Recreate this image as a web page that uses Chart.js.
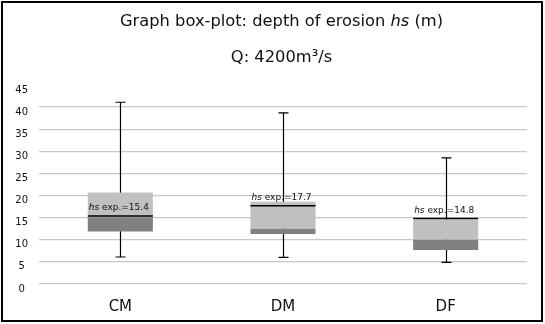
<!DOCTYPE html>
<html>
<head>
<meta charset="utf-8">
<script src="https://cdn.jsdelivr.net/npm/chart.js@4.4.0/dist/chart.umd.min.js"></script>
<style>
  html, body { margin: 0; padding: 0; background: #fff; }
  #wrap { position: relative; width: 545px; height: 324px; }
  #frame { position: absolute; left: 1px; top: 1px; width: 538px; height: 317px; border: 2px solid #000; }
  .ttl { position: absolute; left: 9px; width: 545px; text-align: center; font-family: "DejaVu Sans", sans-serif; font-size: 16.3px; line-height: 19px; color: #111; white-space: nowrap; }
  canvas { position: absolute; left: 0; top: 0; }
</style>
</head>
<body>
<div id="wrap">
  <canvas id="chart01" width="545" height="324"></canvas>
  <div id="frame"></div>
  <div class="ttl" style="top:11px">Graph box-plot: depth of erosion <i>hs</i> (m)</div>
  <div class="ttl" style="top:47px">Q: 4200m³/s</div>
</div>
<script>
// box plot data
var categories = ['CM', 'DM', 'DF'];
var whiskerMin = [6.1, 6.0, 4.9];
var q1 = [11.9, 11.3, 7.7];
var median = [15.1, 12.5, 10.0];
var q3 = [20.7, 18.6, 14.6];
var whiskerMax = [41.1, 38.7, 28.5];
var hsExp = [15.4, 17.7, 14.8];
var yTicks = [0, 5, 10, 15, 20, 25, 30, 35, 40, 45];

var lowerBox = categories.map(function (c, i) { return [q1[i], median[i]]; });
var upperBox = categories.map(function (c, i) { return [median[i], q3[i]]; });

// whiskers behind the boxes, hs exp. line + label on top
var whiskerPlugin = {
  id: 'whiskers',
  beforeDatasetsDraw: function (chart) {
    var ctx = chart.ctx;
    var x = chart.scales.x, y = chart.scales.y;
    ctx.save();
    ctx.strokeStyle = '#000';
    ctx.lineWidth = 1.2;
    categories.forEach(function (c, i) {
      var cx = Math.round(x.getPixelForValue(i)) + 0.5;
      var top = y.getPixelForValue(whiskerMax[i]);
      var bot = y.getPixelForValue(whiskerMin[i]);
      ctx.beginPath();
      ctx.moveTo(cx, top); ctx.lineTo(cx, bot);
      ctx.moveTo(cx - 5, top); ctx.lineTo(cx + 5, top);
      ctx.moveTo(cx - 5, bot); ctx.lineTo(cx + 5, bot);
      ctx.stroke();
    });
    ctx.restore();
  },
  afterDatasetsDraw: function (chart) {
    var ctx = chart.ctx;
    var y = chart.scales.y;
    var bars = chart.getDatasetMeta(1).data;
    ctx.save();
    categories.forEach(function (c, i) {
      var b = bars[i];
      var left = b.x - b.width / 2, right = b.x + b.width / 2;
      var yy = y.getPixelForValue(hsExp[i]);
      ctx.strokeStyle = '#000';
      ctx.lineWidth = 1.5;
      ctx.beginPath();
      ctx.moveTo(left, yy); ctx.lineTo(right, yy);
      ctx.stroke();
      ctx.fillStyle = '#111';
      ctx.textBaseline = 'alphabetic';
      ctx.textAlign = 'left';
      ctx.font = 'italic 9px "DejaVu Sans"';
      var tx = left + 1, ty = yy - 5.5;
      ctx.fillText('hs', tx, ty);
      tx += ctx.measureText('hs').width;
      ctx.font = '9px "DejaVu Sans"';
      ctx.fillText(' exp.=' + hsExp[i].toFixed(1), tx, ty);
    });
    ctx.restore();
  }
};

new Chart(document.getElementById('chart01').getContext('2d'), {
  type: 'bar',
  data: {
    labels: categories,
    datasets: [{
      label: 'Q1 - median',
      data: lowerBox,
      backgroundColor: '#808080',
      borderWidth: 0,
      grouped: false,
      categoryPercentage: 1,
      barPercentage: 0.4
    }, {
      label: 'median - Q3',
      data: upperBox,
      backgroundColor: '#c0c0c0',
      borderWidth: 0,
      grouped: false,
      categoryPercentage: 1,
      barPercentage: 0.4
    }]
  },
  options: {
    responsive: false,
    animation: false,
    layout: { padding: { top: 85, right: 18, bottom: 10, left: 0 } },
    plugins: {
      legend: { display: false },
      tooltip: { enabled: false }
    },
    scales: {
      x: {
        grid: { display: false },
        border: { display: false },
        ticks: { color: '#111', font: { family: 'DejaVu Sans', size: 15 }, padding: 6 },
        afterFit: function (s) { s.height = 30; }
      },
      y: {
        min: 0,
        max: 45,
        afterBuildTicks: function (s) { s.ticks = yTicks.map(function (v) { return { value: v }; }); },
        grid: {
          color: function (c) { return c.tick && c.tick.value === 45 ? 'rgba(0,0,0,0)' : '#c8c8c8'; },
          lineWidth: 1.3,
          drawTicks: false
        },
        border: { display: false },
        ticks: {
          color: '#111',
          font: { family: 'DejaVu Sans', size: 10 },
          crossAlign: 'center',
          padding: 11,
          labelOffset: 5
        },
        afterFit: function (s) { s.width = 39; }
      }
    }
  },
  plugins: [whiskerPlugin]
});
</script>
</body>
</html>
